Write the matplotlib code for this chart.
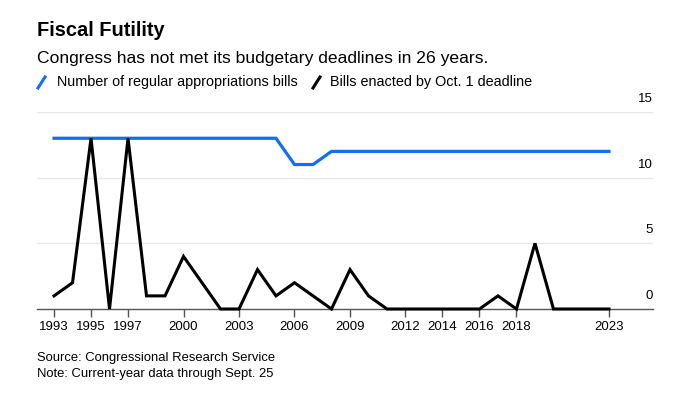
import matplotlib
matplotlib.use("Agg")
import matplotlib.pyplot as plt
from matplotlib.lines import Line2D

plt.rcParams['font.family'] = ['Liberation Sans', 'DejaVu Sans']

years = list(range(1993, 2024))
regular_bills = [13] * 13 + [11, 11] + [12] * 16
enacted_bills = [1, 2, 13, 0, 13, 1, 1, 4, 2, 0, 0, 3, 1, 2, 1, 0,
                 3, 1, 0, 0, 0, 0, 0, 0, 1, 0, 5, 0, 0, 0, 0]
xtick_years = [1993, 1995, 1997, 2000, 2003, 2006, 2009, 2012, 2014, 2016, 2018, 2023]
ytick_vals = [0, 5, 10, 15]

BLUE = "#0f6ff5"

fig = plt.figure(figsize=(6.77, 3.99), dpi=100)
ax = fig.add_axes([37 / 677, 1 - 309 / 399, (653 - 37) / 677, (309 - 112) / 399])

ax.set_xlim(1992.08, 2025.38)
ax.set_ylim(0, 15)

for v in ytick_vals[1:]:
    ax.axhline(v, color="#e8e8e8", lw=1.0, zorder=0)
ax.axhline(0, color="#555555", lw=1.0, zorder=1, clip_on=False)

ax.plot(years, regular_bills, color=BLUE, lw=2.3, solid_joinstyle="miter",
        zorder=3, clip_on=False)
ax.plot(years, enacted_bills, color="black", lw=2.2, solid_joinstyle="miter",
        zorder=4, clip_on=False)

for s in ax.spines.values():
    s.set_visible(False)

ax.set_xticks(xtick_years)
ax.set_xticklabels([str(y) for y in xtick_years], fontsize=9.5)
ax.tick_params(axis="x", length=6, width=1, color="#555555", pad=3)
ax.set_yticks([])

# y labels sit above the gridlines at the right edge
for v in ytick_vals:
    ax.text(1.0, v + 1.0, str(v), transform=ax.get_yaxis_transform(),
            ha="right", va="center", fontsize=9.5, color="black")

fig.text(37 / 677, 1 - 31 / 399, "Fiscal Futility", fontsize=14.4,
         fontweight="bold", va="center", ha="left")
fig.text(37 / 677, 1 - 58 / 399,
         "Congress has not met its budgetary deadlines in 26 years.",
         fontsize=12.6, va="center", ha="left")

# legend with slash markers
fig.add_artist(Line2D([38 / 677, 45 / 677], [1 - 88 / 399, 1 - 77 / 399],
                      color=BLUE, lw=2.2))
fig.text(57 / 677, 1 - 82 / 399, "Number of regular appropriations bills",
         fontsize=10.4, va="center", ha="left")
fig.add_artist(Line2D([313 / 677, 320 / 677], [1 - 88 / 399, 1 - 77 / 399],
                      color="black", lw=2.2))
fig.text(330 / 677, 1 - 82 / 399, "Bills enacted by Oct. 1 deadline",
         fontsize=10.4, va="center", ha="left")

fig.text(37 / 677, 1 - 358 / 399, "Source: Congressional Research Service",
         fontsize=9.35, va="center", ha="left")
fig.text(37 / 677, 1 - 374 / 399, "Note: Current-year data through Sept. 25",
         fontsize=9.35, va="center", ha="left")

fig.savefig("out.png", dpi=100)
